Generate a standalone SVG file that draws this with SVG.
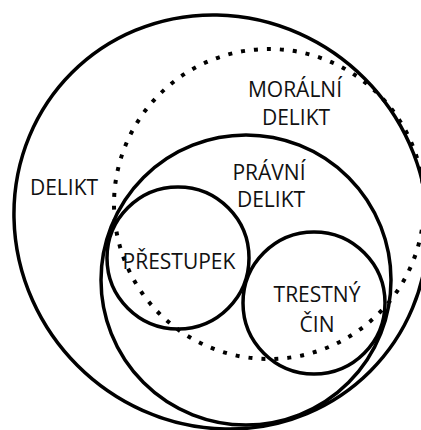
<svg xmlns="http://www.w3.org/2000/svg" width="421" height="430" viewBox="0 0 421 430">
<style>
.c{fill:none;stroke:#000;stroke-width:3.5}
.d{fill:none;stroke:#000;stroke-width:4;stroke-dasharray:4 9}
text{font-family:"Open Sans","Liberation Sans",sans-serif;font-size:21px;fill:#111;text-anchor:middle}
</style>
<rect width="421" height="430" fill="#fff"/>
<g id="delikt"><ellipse class="c" cx="221" cy="222" rx="211" ry="203" transform="rotate(45 221 222)"/><text x="64" y="195">DELIKT</text></g>
<g id="moralni-delikt"><circle class="d" cx="269" cy="204" r="155"/><text x="295" y="97">MORÁLNÍ</text><text x="296" y="125">DELIKT</text></g>
<g id="pravni-delikt"><circle class="c" cx="246" cy="280" r="145"/><text x="269" y="180">PRÁVNÍ</text><text x="271" y="207">DELIKT</text></g>
<g id="prestupek"><circle class="c" cx="178" cy="258" r="71"/><text x="179" y="269">PŘESTUPEK</text></g>
<g id="trestny-cin"><circle class="c" cx="314" cy="303" r="71"/><text x="317" y="302">TRESTNÝ</text><text x="317" y="332">ČIN</text></g>
<g id="connectors"/>
</svg>
